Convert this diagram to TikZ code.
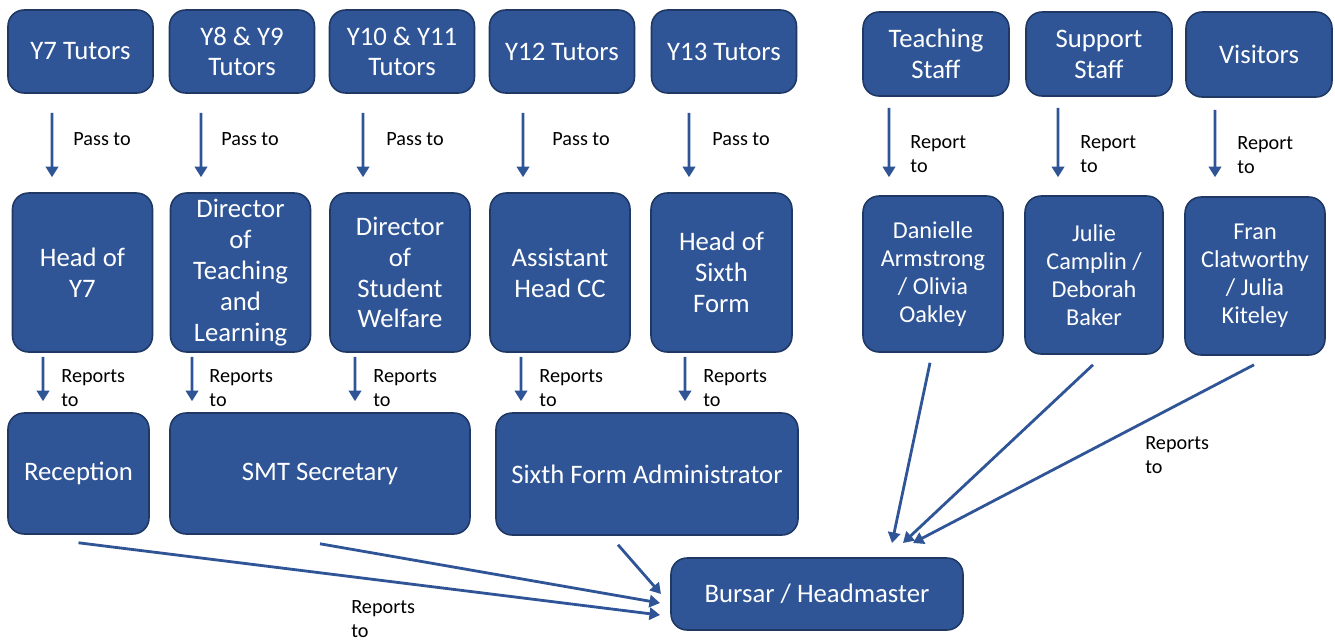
\documentclass[tikz,border=0pt]{standalone}
\usepackage{fontspec}
\setmainfont{Carlito}
\usetikzlibrary{arrows.meta}
\definecolor{boxblue}{RGB}{47,85,151}
\definecolor{boxline}{RGB}{31,56,100}

\tikzset{
  box/.style={draw=boxline, line width=0.9pt, fill=boxblue, rounded corners=0.32cm,
    text=white, align=center, inner sep=2pt, font=\fontsize{15.2}{17.6}\selectfont},
  sbox/.style={box, font=\fontsize{13.8}{15.9}\selectfont},
  arr/.style={draw=boxblue, line width=1.6pt, -{Triangle[width=7pt,length=6pt]}},
  lbl/.style={font=\fontsize{11.5}{13.6}\selectfont, align=left, inner sep=0pt, anchor=west},
}

\begin{document}
\begin{tikzpicture}[x=0.02cm,y=-0.02cm]
    \useasboundingbox (0,0) rectangle (1335,640);
    \node[box, minimum width=2.9cm, minimum height=1.66cm] (y7t) at (80.5,51.5) {Y7 Tutors};
    \node[box, minimum width=2.9cm, minimum height=1.66cm] (y8t) at (242,51.5) {Y8 \& Y9\\Tutors};
    \node[box, minimum width=2.9cm, minimum height=1.66cm] (y10t) at (402,51.5) {Y10 \& Y11\\Tutors};
    \node[box, minimum width=2.9cm, minimum height=1.66cm] (y12t) at (562,51.5) {Y12 Tutors};
    \node[box, minimum width=2.9cm, minimum height=1.66cm] (y13t) at (724,51.5) {Y13 Tutors};
    \node[box, minimum width=2.92cm, minimum height=1.68cm] (teach) at (936,54) {Teaching\\Staff};
    \node[box, minimum width=2.92cm, minimum height=1.68cm] (supp) at (1099,54) {Support\\Staff};
    \node[box, minimum width=2.92cm, minimum height=1.7cm] (vis) at (1259,54.5) {Visitors};

    \node[box, minimum width=2.8cm, minimum height=3.18cm] (hy7) at (82.5,272.5) {Head of\\Y7};
    \node[box, minimum width=2.8cm, minimum height=3.18cm] (dtl) at (240.5,272.5) {Director\\of\\Teaching\\and\\Learning};
    \node[box, minimum width=2.8cm, minimum height=3.18cm] (dsw) at (400,272.5) {Director\\of\\Student\\Welfare};
    \node[box, minimum width=2.8cm, minimum height=3.18cm] (ahcc) at (560,272.5) {Assistant\\Head CC};
    \node[box, minimum width=2.82cm, minimum height=3.18cm] (hsf) at (721.5,272.5) {Head of\\Sixth\\Form};
    \node[sbox, minimum width=2.8cm, minimum height=3.12cm] (dan) at (933,274) {Danielle\\Armstrong\\/ Olivia\\Oakley};
    \node[sbox, minimum width=2.76cm, minimum height=3.16cm] (jul) at (1094,275) {Julie\\Camplin /\\Deborah\\Baker};
    \node[sbox, minimum width=2.8cm, minimum height=3.16cm] (fran) at (1255,276) {Fran\\Clatworthy\\/ Julia\\Kiteley};

    \node[box, minimum width=2.82cm, minimum height=2.42cm] (recep) at (78.5,473.5) {Reception};
    \node[box, minimum width=6cm, minimum height=2.42cm] (smt) at (320,473.5) {SMT Secretary};
    \node[box, minimum width=6.04cm, minimum height=2.44cm] (sfa) at (647,474) {Sixth Form Administrator};
    \node[box, minimum width=5.84cm, minimum height=1.44cm] (bursar) at (817,594) {Bursar / Headmaster};

    \draw[arr, shorten <=0.38cm, shorten >=0.3cm] ([xshift=-0.57cm]y7t.south) -- node[lbl, xshift=0.4cm, yshift=0.08cm]{Pass to} ([xshift=-0.61cm]hy7.north);
    \draw[arr, shorten <=0.38cm, shorten >=0.3cm] ([xshift=-0.82cm]y8t.south) -- node[lbl, xshift=0.38cm, yshift=0.08cm]{Pass to} ([xshift=-0.79cm]dtl.north);
    \draw[arr, shorten <=0.38cm, shorten >=0.3cm] ([xshift=-0.78cm]y10t.south) -- node[lbl, xshift=0.44cm, yshift=0.08cm]{Pass to} ([xshift=-0.74cm]dsw.north);
    \draw[arr, shorten <=0.38cm, shorten >=0.3cm] ([xshift=-0.78cm]y12t.south) -- node[lbl, xshift=0.56cm, yshift=0.08cm]{Pass to} ([xshift=-0.74cm]ahcc.north);
    \draw[arr, shorten <=0.38cm, shorten >=0.3cm] ([xshift=-0.70cm]y13t.south) -- node[lbl, xshift=0.44cm, yshift=0.08cm]{Pass to} ([xshift=-0.65cm]hsf.north);
    \draw[arr, shorten <=0.22cm, shorten >=0.36cm] ([xshift=-0.94cm]teach.south) -- node[lbl, xshift=0.4cm, yshift=-0.16cm]{Report\\to} ([xshift=-0.88cm]dan.north);
    \draw[arr, shorten <=0.22cm, shorten >=0.36cm] ([xshift=-0.82cm]supp.south) -- node[lbl, xshift=0.42cm, yshift=-0.16cm]{Report\\to} ([xshift=-0.72cm]jul.north);
    \draw[arr, shorten <=0.24cm, shorten >=0.38cm] ([xshift=-0.88cm]vis.south) -- node[lbl, xshift=0.42cm, yshift=-0.16cm]{Report\\to} ([xshift=-0.80cm]fran.north);

    \draw[arr, shorten <=0.08cm, shorten >=0.22cm] ([xshift=-0.79cm]hy7.south) -- node[lbl, xshift=0.34cm, yshift=-0.11cm]{Reports\\to} ([xshift=-0.71cm]recep.north);
    \draw[arr, shorten <=0.08cm, shorten >=0.22cm] ([xshift=-0.97cm]dtl.south) -- node[lbl, xshift=0.32cm, yshift=-0.11cm]{Reports\\to} ([xshift=-2.56cm]smt.north);
    \draw[arr, shorten <=0.08cm, shorten >=0.22cm] ([xshift=-0.90cm]dsw.south) -- node[lbl, xshift=0.34cm, yshift=-0.11cm]{Reports\\to} ([xshift=0.70cm]smt.north);
    \draw[arr, shorten <=0.08cm, shorten >=0.22cm] ([xshift=-0.78cm]ahcc.south) -- node[lbl, xshift=0.34cm, yshift=-0.11cm]{Reports\\to} ([xshift=-2.52cm]sfa.north);
    \draw[arr, shorten <=0.08cm, shorten >=0.22cm] ([xshift=-0.73cm]hsf.south) -- node[lbl, xshift=0.34cm, yshift=-0.11cm]{Reports\\to} ([xshift=0.76cm]sfa.north);

    \coordinate (in1) at (660,615);
    \coordinate (in2) at (660,603);
    \coordinate (in3) at (661,594);
    \coordinate (in4) at (892,543);
    \coordinate (in5) at (903,543);
    \coordinate (in6) at (913,543);
    \draw[arr] ([yshift=-0.16cm]recep.south) -- (in1);
    \draw[arr] ([yshift=-0.18cm]smt.south) -- (in2);
    \draw[arr] ([xshift=-0.58cm,yshift=-0.18cm]sfa.south) -- (in3);
    \draw[arr] ([xshift=-0.06cm,yshift=-0.2cm]dan.south) -- (in4);
    \draw[arr] ([xshift=-0.02cm,yshift=-0.2cm]jul.south) -- (in5);
    \draw[arr] ([xshift=-0.02cm,yshift=-0.18cm]fran.south) -- (in6);

    \node[lbl] (rep1) at (351,619) {Reports\\to};
    \node[lbl] (rep2) at (1145,455) {Reports\\to};
\end{tikzpicture}
\end{document}
